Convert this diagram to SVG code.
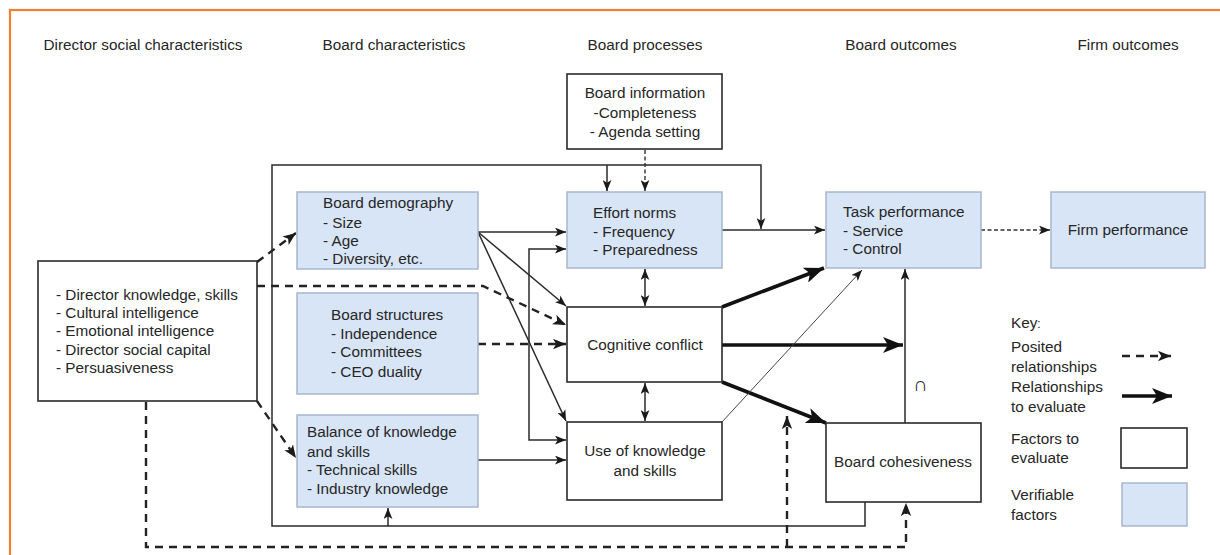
<svg xmlns="http://www.w3.org/2000/svg" width="1220" height="555" viewBox="0 0 1220 555">
<defs>
<style>
text{font-family:"Liberation Sans",Arial,sans-serif;font-size:15.3px;fill:#262626}
.c{text-anchor:middle}
.blue{fill:#d8e5f6;stroke:#a7b7cc;stroke-width:1.5}
.white{fill:#fff;stroke:#2a2a2a;stroke-width:1.6}
.ln{fill:none;stroke:#2a2a2a;stroke-width:1.5}
.thin{fill:none;stroke:#444;stroke-width:1}
.thick{fill:none;stroke:#111;stroke-width:3.6}
.dash{fill:none;stroke:#222;stroke-width:2.4;stroke-dasharray:8 6}
.fdash{fill:none;stroke:#333;stroke-width:1.4;stroke-dasharray:4 2.5}
</style>
<marker id="a" viewBox="0 0 10 8" refX="10" refY="4" markerWidth="11" markerHeight="9" orient="auto-start-reverse" markerUnits="userSpaceOnUse"><path d="M0,0 L10,4 L0,8 L2.5,4 z" fill="#1a1a1a"/></marker>
<marker id="ad" viewBox="0 0 10 8" refX="10" refY="4" markerWidth="13" markerHeight="11" orient="auto-start-reverse" markerUnits="userSpaceOnUse"><path d="M0,0 L10,4 L0,8 L2.5,4 z" fill="#1a1a1a"/></marker>
<marker id="at" viewBox="0 0 10 8" refX="10" refY="4" markerWidth="20" markerHeight="16" orient="auto" markerUnits="userSpaceOnUse"><path d="M0,0 L10,4 L0,8 L2.5,4 z" fill="#111"/></marker>
</defs>
<rect x="10" y="10" width="1240" height="580" fill="#fff" stroke="#f07f35" stroke-width="2.2"/>

<g id="headers">
<text class="c" x="143" y="50">Director social characteristics</text>
<text class="c" x="394" y="50">Board characteristics</text>
<text class="c" x="645" y="50">Board processes</text>
<text class="c" x="901" y="50">Board outcomes</text>
<text class="c" x="1128" y="50">Firm outcomes</text>
</g>

<g id="connectors">
<path class="ln" d="M865 502 V526 H272 V165 H761 V229" marker-end="url(#a)"/>
<path class="ln" d="M607 165 V191" marker-end="url(#a)"/>
<path class="ln" d="M388 526 V508" marker-end="url(#a)"/>
<path class="fdash" d="M645 150 V191" marker-end="url(#a)"/>
<path class="ln" d="M722 230 H825" marker-end="url(#a)"/>
<path class="fdash" d="M981 230 H1050" marker-end="url(#a)"/>
<path class="ln" d="M478 232 H566" marker-end="url(#a)"/>
<path class="ln" d="M478 232 L566 306" marker-end="url(#a)"/>
<path class="ln" d="M478 232 L566 421" marker-end="url(#a)"/>
<path class="ln" d="M566 249 H529 V440 H566" marker-start="url(#a)" marker-end="url(#a)"/>
<path class="ln" d="M478 460 H566" marker-end="url(#a)"/>
<path class="ln" d="M645 269 V306" marker-start="url(#a)" marker-end="url(#a)"/>
<path class="ln" d="M645 383 V421" marker-start="url(#a)" marker-end="url(#a)"/>
<path class="thick" d="M722 307 L824 268" marker-end="url(#at)"/>
<path class="thick" d="M722 345 H903" marker-end="url(#at)"/>
<path class="thick" d="M722 382 L826 423" marker-end="url(#at)"/>
<path class="thin" d="M722 422 L862 270" marker-end="url(#a)"/>
<path class="ln" d="M905 423 V269" marker-end="url(#a)"/>
<path class="dash" d="M257 262 L296 233" marker-end="url(#ad)"/>
<path class="dash" d="M257 286 H483 L566 325" marker-end="url(#ad)"/>
<path class="dash" d="M478 344 H566" marker-end="url(#ad)"/>
<path class="dash" d="M257 401 L296 458" marker-end="url(#ad)"/>
<path class="dash" d="M146 402 V547 H906 V503" marker-end="url(#ad)"/>
<path class="dash" d="M787 547 V416" marker-end="url(#ad)"/>
<text x="913" y="391" style="font-size:20px">∩</text>
</g>

<g id="director">
<rect class="white" x="38" y="261" width="219" height="140"/>
<text x="56" y="300">- Director knowledge, skills</text>
<text x="56" y="318">- Cultural intelligence</text>
<text x="56" y="336">- Emotional intelligence</text>
<text x="56" y="355">- Director social capital</text>
<text x="56" y="373">- Persuasiveness</text>
</g>

<g id="board-demography">
<rect class="blue" x="297" y="192" width="181" height="77"/>
<text x="323" y="208">Board demography</text>
<text x="323" y="228">- Size</text>
<text x="323" y="246">- Age</text>
<text x="323" y="264">- Diversity, etc.</text>
</g>

<g id="board-structures">
<rect class="blue" x="297" y="293" width="181" height="101"/>
<text x="331" y="320">Board structures</text>
<text x="331" y="339">- Independence</text>
<text x="331" y="357">- Committees</text>
<text x="331" y="377">- CEO duality</text>
</g>

<g id="balance">
<rect class="blue" x="297" y="415" width="181" height="92"/>
<text x="307" y="437">Balance of knowledge</text>
<text x="307" y="457">and skills</text>
<text x="307" y="475">- Technical skills</text>
<text x="307" y="494">- Industry knowledge</text>
</g>

<g id="board-information">
<rect class="white" x="567" y="74" width="155" height="75"/>
<text class="c" x="645" y="98">Board information</text>
<text class="c" x="645" y="118">-Completeness</text>
<text class="c" x="645" y="137">- Agenda setting</text>
</g>

<g id="effort-norms">
<rect class="blue" x="567" y="192" width="155" height="76"/>
<text x="593" y="218">Effort norms</text>
<text x="593" y="237">- Frequency</text>
<text x="593" y="255">- Preparedness</text>
</g>

<g id="cognitive-conflict">
<rect class="white" x="567" y="307" width="155" height="75"/>
<text class="c" x="645" y="350">Cognitive conflict</text>
</g>

<g id="use-knowledge">
<rect class="white" x="567" y="422" width="155" height="78"/>
<text class="c" x="645" y="456">Use of knowledge</text>
<text class="c" x="645" y="476">and skills</text>
</g>

<g id="task-performance">
<rect class="blue" x="826" y="192" width="155" height="76"/>
<text x="843" y="217">Task performance</text>
<text x="843" y="236">- Service</text>
<text x="843" y="254">- Control</text>
</g>

<g id="board-cohesiveness">
<rect class="white" x="826" y="423" width="155" height="79"/>
<text class="c" x="903" y="467">Board cohesiveness</text>
</g>

<g id="firm-performance">
<rect class="blue" x="1051" y="192" width="154" height="76"/>
<text class="c" x="1128" y="235">Firm performance</text>
</g>

<g id="key">
<text x="1011" y="328">Key<tspan font-size="12">:</tspan></text>
<text x="1011" y="352">Posited</text>
<text x="1011" y="372">relationships</text>
<text x="1011" y="392">Relationships</text>
<text x="1011" y="412">to evaluate</text>
<text x="1011" y="444">Factors to</text>
<text x="1011" y="463">evaluate</text>
<text x="1011" y="500">Verifiable</text>
<text x="1011" y="520">factors</text>
<path class="dash" d="M1122 356 H1171" stroke-dasharray="6 5" marker-end="url(#ad)"/>
<path class="thick" d="M1122 396 H1172" marker-end="url(#at)"/>
<rect class="white" x="1121" y="428" width="66" height="40"/>
<rect class="blue" x="1122" y="483" width="65" height="43"/>
</g>
</svg>
